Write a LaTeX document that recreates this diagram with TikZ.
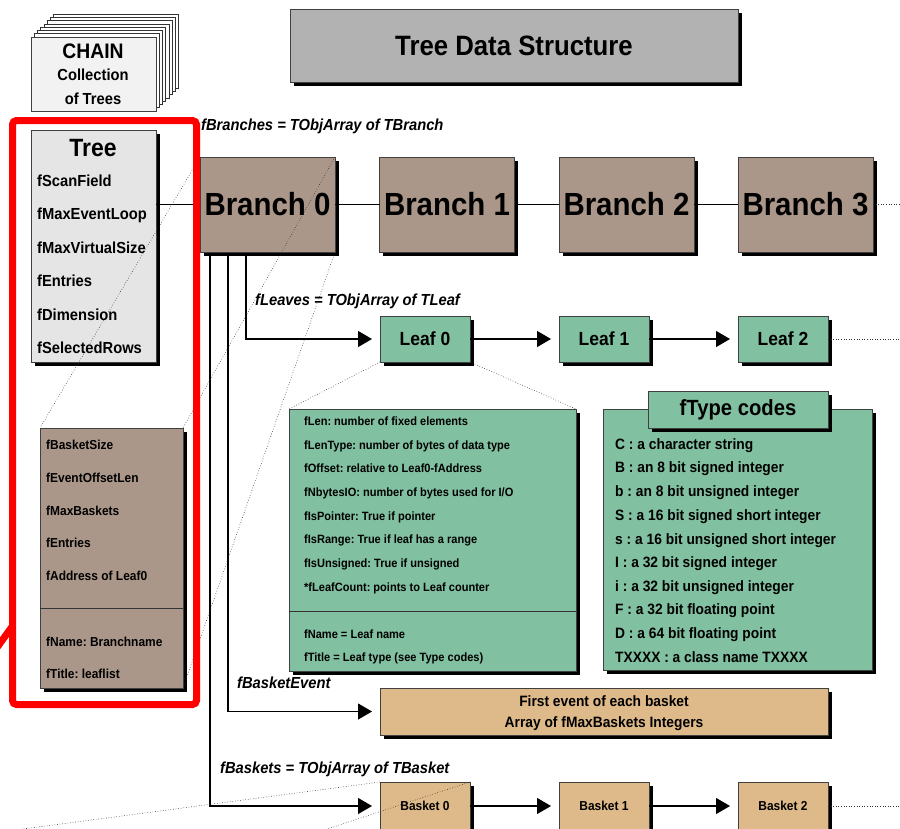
\documentclass[tikz,border=0pt]{standalone}
\usepackage{fontspec}
\setmainfont[FakeStretch=0.92]{Liberation Sans}
\usetikzlibrary{arrows.meta,shadows}
\definecolor{brn}{RGB}{171,151,137}
\definecolor{grn}{RGB}{129,192,160}
\definecolor{bsk}{RGB}{222,185,137}
\definecolor{ttl}{gray}{0.70}
\definecolor{trg}{gray}{0.90}
\definecolor{chg}{gray}{0.95}
\frenchspacing
\newcommand\myfs[1]{\fontsize{#1}{#1}\selectfont\bfseries}
\tikzset{
  box/.style={draw=black!75, line width=0.7pt, inner sep=0pt, outer sep=0pt,
    general shadow={fill=black, draw=none, shadow xshift=3.5pt, shadow yshift=-3.5pt}},
  txt/.style={inner sep=0pt, anchor=base west},
  ctxt/.style={inner sep=0pt, anchor=base},
  conn/.style={line width=1.2pt},
  arr/.style={conn, -{Triangle[length=14pt,width=16pt]}, shorten >=8pt},
  dotl/.style={dotted, line width=0.6pt, black!80},
  lab/.style={inner sep=0pt, anchor=base west, font=\myfs{16}\itshape},
}
\begin{document}
\begin{tikzpicture}[x=1pt, y=-1pt]
\useasboundingbox (0,0) rectangle (900,828);
\begin{scope}
\clip (0,0) rectangle (900,828);

% CHAIN stack
\foreach \i in {7,...,1}
  \draw[fill=white, draw=black!80, line width=0.6pt] ({31+3.2*\i},{37-3.3*\i}) rectangle ++(125,74);
\node[draw=black!75, line width=0.7pt, fill=chg, minimum width=125pt, minimum height=74pt, inner sep=0pt] (chain) at (93.5,74) {};
\node[ctxt, font=\myfs{21}] (chaint) at (93,58) {CHAIN};
\node[ctxt, font=\myfs{16}] (chainc) at (93,80) {Collection};
\node[ctxt, font=\myfs{16}] (chaino) at (93,104) {of Trees};

% Title
\node[box, fill=ttl, minimum width=448pt, minimum height=73pt, font=\myfs{28}] (title) at (514,45.5) {Tree Data Structure};

% Tree box
\node[box, fill=trg, minimum width=125pt, minimum height=232pt] (tree) at (93.5,246) {};
\node[ctxt, font=\myfs{25}] (treet) at (93,156) {Tree};
\node[txt, font=\myfs{16}] (t1) at (37,186) {fScanField};
\node[txt, font=\myfs{16}] (t2) at (37,219.5) {fMaxEventLoop};
\node[txt, font=\myfs{16}] (t3) at (37,253) {fMaxVirtualSize};
\node[txt, font=\myfs{16}] (t4) at (37,286.5) {fEntries};
\node[txt, font=\myfs{16}] (t5) at (37,320) {fDimension};
\node[txt, font=\myfs{16}] (t6) at (37,353.5) {fSelectedRows};

% Branch detail box
\node[box, fill=brn, minimum width=143pt, minimum height=260pt] (bd) at (111.5,558) {};
\draw[black!80, line width=0.7pt] ([yshift=80pt]bd.south west) -- ([yshift=80pt]bd.south east);
\node[txt, font=\myfs{13}] (d1) at (46,449) {fBasketSize};
\node[txt, font=\myfs{13}] (d2) at (46,482) {fEventOffsetLen};
\node[txt, font=\myfs{13}] (d3) at (46,515) {fMaxBaskets};
\node[txt, font=\myfs{13}] (d4) at (46,547) {fEntries};
\node[txt, font=\myfs{13}] (d5) at (46,580) {fAddress of Leaf0};
\node[txt, font=\myfs{13}] (d6) at (46,646) {fName: Branchname};
\node[txt, font=\myfs{13}] (d7) at (46,678) {fTitle: leaflist};

% Branches
\node[lab] (lbr) at (201,130) {fBranches = TObjArray of TBranch};
\node[box, fill=brn, minimum width=135pt, minimum height=95pt, font=\myfs{32}] (b0) at (267.5,204.5) {Branch 0};
\node[box, fill=brn, minimum width=135pt, minimum height=95pt, font=\myfs{32}] (b1) at (447,204.5) {Branch 1};
\node[box, fill=brn, minimum width=135pt, minimum height=95pt, font=\myfs{32}] (b2) at (626.5,204.5) {Branch 2};
\node[box, fill=brn, minimum width=135pt, minimum height=95pt, font=\myfs{32}] (b3) at (805.5,204.5) {Branch 3};
\coordinate (be) at (900,204.5);
\draw[conn] (tree.east |- b0.west) -- (b0.west);
\draw[conn] (b0.east) -- (b1.west);
\draw[conn] (b1.east) -- (b2.west);
\draw[conn] (b2.east) -- (b3.west);
\draw[dotl] (b3.east) -- (be);

% Leaves
\node[lab] (llv) at (255,305) {fLeaves = TObjArray of TLeaf};
\node[box, fill=grn, minimum width=90pt, minimum height=46pt, font=\myfs{19}] (l0) at (425,339) {Leaf 0};
\node[box, fill=grn, minimum width=90pt, minimum height=46pt, font=\myfs{19}] (l1) at (604,339) {Leaf 1};
\node[box, fill=grn, minimum width=90pt, minimum height=46pt, font=\myfs{19}] (l2) at (783,339) {Leaf 2};
\coordinate (le) at (900,339);
\draw[arr] (l0.east) -- (l1.west);
\draw[arr] (l1.east) -- (l2.west);
\draw[dotl] (l2.east) -- (le);

% Leaf detail box
\node[box, fill=grn, minimum width=287pt, minimum height=262pt] (ld) at (432.5,540) {};
\draw[black!80, line width=0.7pt] ([yshift=60pt]ld.south west) -- ([yshift=60pt]ld.south east);
\node[txt, font=\myfs{12}] (e1) at (304,425.5) {fLen: number of fixed elements};
\node[txt, font=\myfs{12}] (e2) at (304,449) {fLenType: number of bytes of data type};
\node[txt, font=\myfs{12}] (e3) at (304,472.5) {fOffset: relative to Leaf0-fAddress};
\node[txt, font=\myfs{12}] (e4) at (304,496.5) {fNbytesIO: number of bytes used for I/O};
\node[txt, font=\myfs{12}] (e5) at (304,520) {fIsPointer: True if pointer};
\node[txt, font=\myfs{12}] (e6) at (304,543.5) {fIsRange: True if leaf has a range};
\node[txt, font=\myfs{12}] (e7) at (304,567) {fIsUnsigned: True if unsigned};
\node[txt, font=\myfs{12}] (e8) at (304,591) {*fLeafCount: points to Leaf counter};
\node[txt, font=\myfs{12}] (e9) at (304,638.5) {fName = Leaf name};
\node[txt, font=\myfs{12}] (e10) at (304,661.5) {fTitle = Leaf type (see Type codes)};

% fType codes box
\node[box, fill=grn, minimum width=269pt, minimum height=261pt] (ft) at (737.5,539.5) {};
\node[box, fill=grn, minimum width=180pt, minimum height=37pt, font=\myfs{22}] (ftt) at (738,409.5) {fType codes};
\node[txt, font=\myfs{15}] (c1) at (615,449.5) {C : a character string};
\node[txt, font=\myfs{15}] (c2) at (615,472.5) {B : an 8 bit signed integer};
\node[txt, font=\myfs{15}] (c3) at (615,496.5) {b : an 8 bit unsigned integer};
\node[txt, font=\myfs{15}] (c4) at (615,520.5) {S : a 16 bit signed short integer};
\node[txt, font=\myfs{15}] (c5) at (615,544.5) {s : a 16 bit unsigned short integer};
\node[txt, font=\myfs{15}] (c6) at (615,567.5) {I : a 32 bit signed integer};
\node[txt, font=\myfs{15}] (c7) at (615,591.5) {i : a 32 bit unsigned integer};
\node[txt, font=\myfs{15}] (c8) at (615,614.5) {F : a 32 bit floating point};
\node[txt, font=\myfs{15}] (c9) at (615,638.5) {D : a 64 bit floating point};
\node[txt, font=\myfs{15}] (c10) at (615,662.5) {TXXXX : a class name TXXXX};

% Basket event
\node[lab] (lbe) at (237,688) {fBasketEvent};
\node[box, fill=bsk, minimum width=448pt, minimum height=47pt] (bev) at (604,711.5) {};
\node[ctxt, font=\myfs{15}] (bev1) at (604,706.5) {First event of each basket};
\node[ctxt, font=\myfs{15}] (bev2) at (604,727.5) {Array of fMaxBaskets Integers};

% Baskets
\node[lab] (lbk) at (220,773) {fBaskets = TObjArray of TBasket};
\node[box, fill=bsk, minimum width=90pt, minimum height=48pt, font=\myfs{13}] (k0) at (425,806) {Basket 0};
\node[box, fill=bsk, minimum width=90pt, minimum height=48pt, font=\myfs{13}] (k1) at (604,806) {Basket 1};
\node[box, fill=bsk, minimum width=90pt, minimum height=48pt, font=\myfs{13}] (k2) at (783,806) {Basket 2};
\coordinate (ke) at (900,806);
\draw[arr] (k0.east) -- (k1.west);
\draw[arr] (k1.east) -- (k2.west);
\draw[dotl] (k2.east) -- (ke);

% Branch 0 fan-out lines
\draw[arr] ([xshift=46pt,yshift=-3.5pt]b0.south west) |- (l0.west);
\draw[arr] ([xshift=28pt,yshift=-3.5pt]b0.south west) |- (bev.west);
\draw[arr] ([xshift=10pt,yshift=-3.5pt]b0.south west) |- (k0.west);

% zoom (callout) dotted lines
\coordinate (kz1) at (0,832);
\coordinate (kz2) at (318,832);
\draw[dotl] (b0.north west) -- (bd.north west);
\draw[dotl] (b0.north east) -- (bd.north east);
\draw[dotl] (b0.south east) -- (bd.south east);
\draw[dotl] (l0.south west) -- (ld.north west);
\draw[dotl] (l0.south east) -- (ld.north east);
\draw[dotl] (k0.north west) -- (kz1);
\draw[dotl] (k0.north east) -- (kz2);

% red highlight
\draw[red, line width=7pt, line cap=round] (12.5,626) -- (-12,660);
\draw[red, line width=7pt, rounded corners=4pt] (12.5,120.5) rectangle (196.5,704.5);
\end{scope}
\end{tikzpicture}
\end{document}
